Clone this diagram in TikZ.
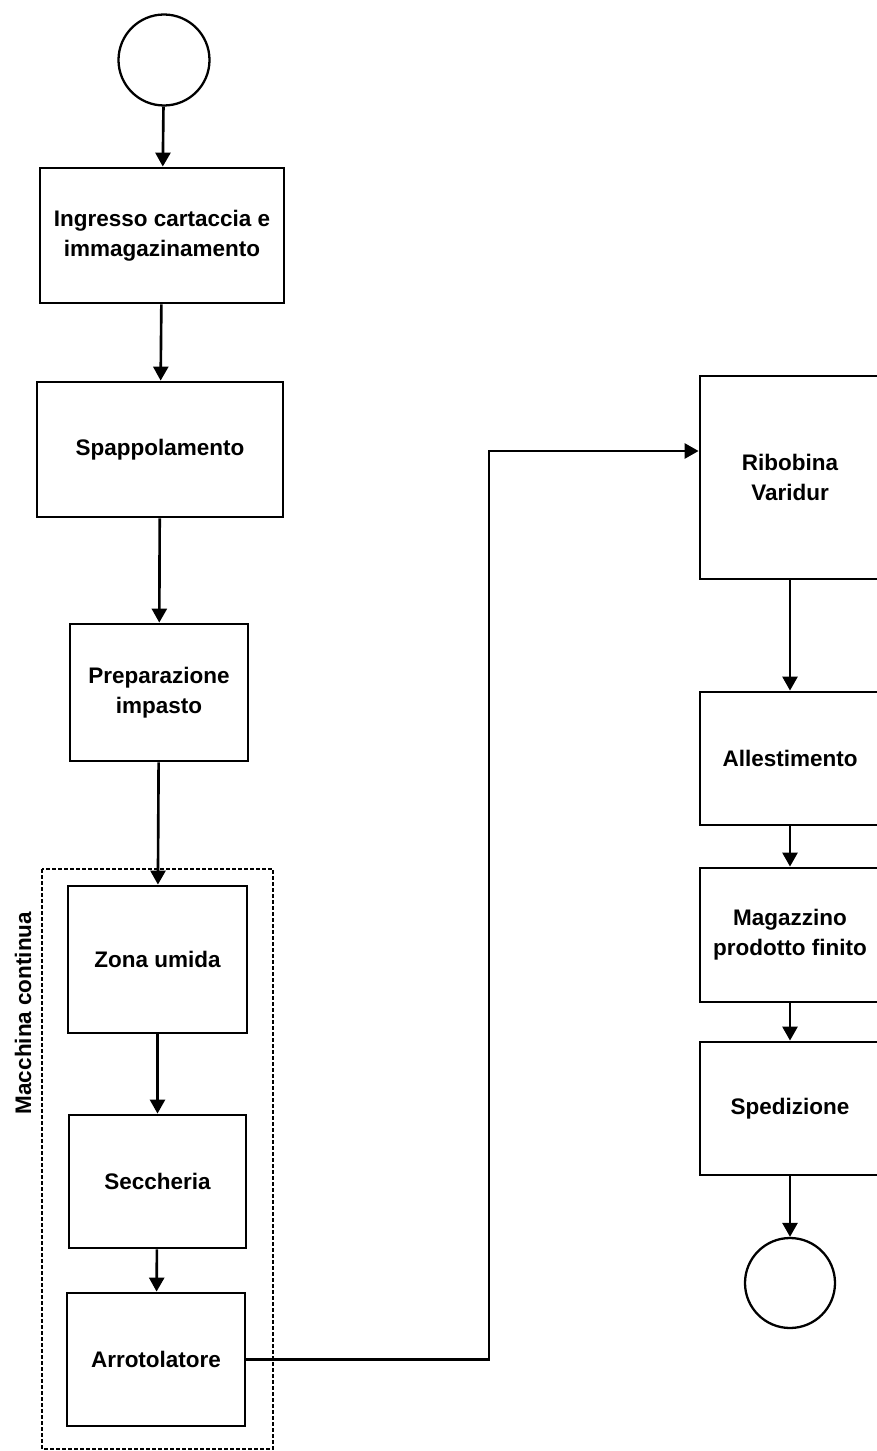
\documentclass[tikz,border=0pt]{standalone}
\usepackage{fontspec}
\setmainfont{Liberation Sans}
\usetikzlibrary{arrows.meta}

\begin{document}
\begin{tikzpicture}[
    every node/.style={font=\fontsize{12.8}{17}\selectfont\bfseries},
    >={Triangle[length=0.28cm, width=0.3cm]},
    stepbox/.style={rectangle, draw, line width=1.6pt, align=center, inner sep=0pt},
    terminal/.style={circle, draw, line width=1.3pt, minimum size=1.82cm, inner sep=0pt},
    flow/.style={->, line width=1.5pt},
    groupbox/.style={line width=1.6pt, dash pattern=on 0.07cm off 0.05cm}]
                \useasboundingbox (0,0) rectangle (17.52,-29.02);

                % Start
                \node[terminal] (start) at (3.28,-1.20) {};

                % Left column
                \node[stepbox, minimum width=4.88cm, minimum height=2.7cm] (ingresso) at (3.24,-4.71) {Ingresso cartaccia e\\immagazinamento};
                \node[stepbox, minimum width=4.92cm, minimum height=2.7cm] (spap) at (3.20,-8.99) {Spappolamento};
                \node[stepbox, minimum width=3.56cm, minimum height=2.74cm] (prep) at (3.18,-13.85) {Preparazione\\impasto};

                % Macchina continua
                \draw[groupbox] (0.84,-17.38) rectangle (5.46,-28.98);
                \node[rotate=90] (macchina) at (0.46,-20.26) {Macchina continua};
                \node[stepbox, minimum width=3.58cm, minimum height=2.94cm] (umida) at (3.15,-19.19) {Zona umida};
                \node[stepbox, minimum width=3.54cm, minimum height=2.66cm] (secc) at (3.15,-23.63) {Seccheria};
                \node[stepbox, minimum width=3.56cm, minimum height=2.66cm] (arrot) at (3.12,-27.19) {Arrotolatore};

                % Right column
                \node[stepbox, minimum width=3.6cm, minimum height=4.06cm] (ribo) at (15.80,-9.55) {Ribobina\\Varidur};
                \node[stepbox, minimum width=3.6cm, minimum height=2.66cm] (alle) at (15.80,-15.17) {Allestimento};
                \node[stepbox, minimum width=3.6cm, minimum height=2.68cm] (maga) at (15.80,-18.70) {Magazzino\\prodotto finito};
                \node[stepbox, minimum width=3.6cm, minimum height=2.66cm] (sped) at (15.80,-22.17) {Spedizione};

                % End
                \node[terminal, minimum size=1.8cm] (stop) at (15.80,-25.66) {};

                % Arrows
                \draw[flow] (start) -- (ingresso);
                \draw[flow] (ingresso) -- (spap);
                \draw[flow] (spap) -- (prep);
                \draw[flow] (prep) -- (umida);
                \draw[flow] (umida) -- (secc);
                \draw[flow] (secc) -- (arrot);
                \coordinate (bend) at (9.78,-9.02);
                \draw[flow] (arrot.east) -| (bend) -- (bend -| ribo.west);
                \draw[flow] (ribo) -- (alle);
                \draw[flow] (alle) -- (maga);
                \draw[flow] (maga) -- (sped);
                \draw[flow] (sped) -- (stop);
            \end{tikzpicture}
\end{document}
